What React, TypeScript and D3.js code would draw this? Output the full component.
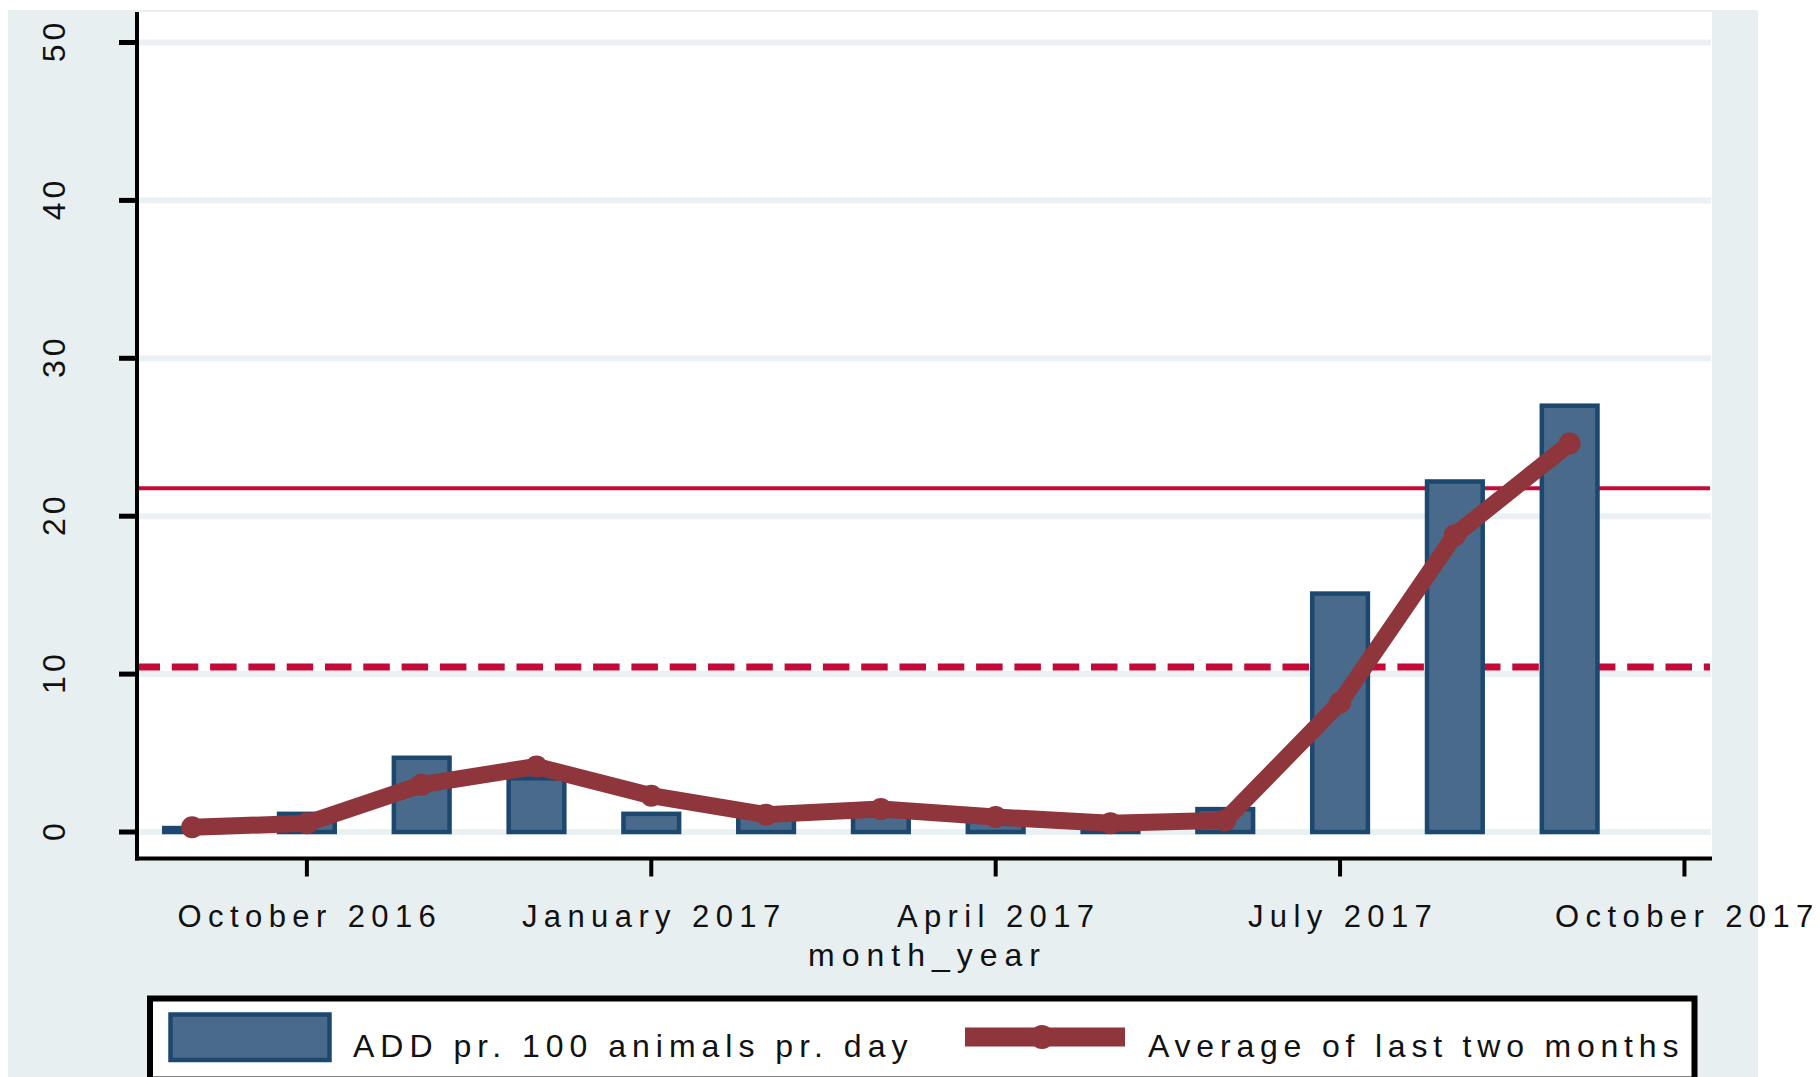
import React from "react";
import * as d3 from "d3";

// ---- data ----
const months = [
  "2016-09", "2016-10", "2016-11", "2016-12", "2017-01", "2017-02", "2017-03",
  "2017-04", "2017-05", "2017-06", "2017-07", "2017-08", "2017-09",
];
const addValues = [0.25, 1.15, 4.7, 3.4, 1.15, 1.05, 1.3, 0.9, 0.7, 1.45, 15.1, 22.2, 27.0];
const avgValues = [0.3, 0.55, 3.0, 4.15, 2.3, 1.1, 1.45, 0.95, 0.55, 0.75, 8.2, 18.8, 24.6];
const yTicks = [0, 10, 20, 30, 40, 50];
const xTickMonths = ["2016-10", "2017-01", "2017-04", "2017-07", "2017-10"];
const xTickLabels = ["October 2016", "January 2017", "April 2017", "July 2017", "October 2017"];
const refSolid = 21.77;
const refDashed = 10.45;
const legendLabels = ["ADD pr. 100 animals pr. day", "Average of last two months"];
const xTitle = "month_year";

// ---- layout / style ----
const W = 1820;
const H = 1077;
const plotL = 137;
const plotR = 1712;
const plotT = 12;
const plotB = 858.5;
const FONT = "'Liberation Sans', Arial, sans-serif";
const BG = "#e8eff1";
const GRID = "#eaf1f3";
const BAR_FILL = "#496a8a";
const BAR_STROKE = "#1c4870";
const LINE_COLOR = "#8f353c";
const REF_COLOR = "#c40a38";
const TEXT = "#111111";

const monthIndex = (s: string) => {
  const [y, m] = s.split("-").map(Number);
  return (y - 2016) * 12 + (m - 10);
};

export default function App() {
  const x = d3.scaleLinear().domain([-1.48, 12.24]).range([plotL, plotR]);
  const y = d3.scaleLinear().domain([0, 50]).range([832, 42.5]);
  const monthW = x(1) - x(0);
  const barW = monthW * 0.485;

  const pts = months.map((m, i) => ({ xi: monthIndex(m), v: avgValues[i] }));
  const line = d3
    .line<{ xi: number; v: number }>()
    .x((d) => x(d.xi))
    .y((d) => y(d.v));

  const ls = 6;

  return (
    <svg
      width={W}
      height={H}
      style={{ position: "absolute", left: 0, top: 0, background: "#ffffff" }}
    >
      {/* outer background */}
      <rect x={8} y={10} width={1750} height={H - 10} fill={BG} />
      {/* plot region */}
      <rect x={plotL} y={plotT} width={plotR - plotL} height={plotB - plotT} fill="#ffffff" />

      {/* gridlines */}
      {yTicks.map((t) => (
        <line key={"g" + t} x1={plotL} x2={plotR - 1} y1={y(t)} y2={y(t)} stroke={GRID} strokeWidth={6} />
      ))}

      {/* reference lines */}
      <line x1={plotL} x2={plotR - 2} y1={y(refSolid)} y2={y(refSolid)} stroke={REF_COLOR} strokeWidth={4} />
      <line
        x1={plotL}
        x2={plotR - 2}
        y1={y(refDashed)}
        y2={y(refDashed)}
        stroke={REF_COLOR}
        strokeWidth={7}
        strokeDasharray="26.5 11.8"
        strokeDashoffset={3.5}
      />

      {/* bars */}
      {months.map((m, i) => {
        const cx = x(monthIndex(m));
        const top = y(addValues[i]);
        return (
          <rect
            key={"b" + m}
            x={cx - barW / 2}
            y={top}
            width={barW}
            height={y(0) - top}
            fill={BAR_FILL}
            stroke={BAR_STROKE}
            strokeWidth={4.5}
          />
        );
      })}

      {/* average line */}
      <path d={line(pts) || ""} fill="none" stroke={LINE_COLOR} strokeWidth={17} strokeLinejoin="round" strokeLinecap="round" />
      {pts.map((p, i) => (
        <circle key={"c" + i} cx={x(p.xi)} cy={y(p.v)} r={11} fill={LINE_COLOR} />
      ))}

      {/* axes */}
      <line x1={plotL} x2={plotL} y1={plotT} y2={plotB + 2} stroke="#000" strokeWidth={4} />
      <line x1={plotL - 2} x2={plotR} y1={plotB} y2={plotB} stroke="#000" strokeWidth={4} />
      {yTicks.map((t) => (
        <g key={"yt" + t}>
          <line x1={plotL - 18} x2={plotL} y1={y(t)} y2={y(t)} stroke="#000" strokeWidth={5} />
          <text
            transform={`translate(65,${y(t)}) rotate(-90)`}
            textAnchor="middle"
            dx={2}
            fontFamily={FONT}
            fontSize={32}
            letterSpacing={4}
            fill={TEXT}
          >
            {t}
          </text>
        </g>
      ))}
      {xTickMonths.map((m, i) => {
        const cx = x(monthIndex(m));
        return (
          <g key={"xt" + m}>
            <line x1={cx} x2={cx} y1={plotB} y2={plotB + 18} stroke="#000" strokeWidth={4} />
            <text
              x={cx + ls / 2}
              y={927}
              textAnchor="middle"
              fontFamily={FONT}
              fontSize={31}
              letterSpacing={ls + 0.4}
              fill={TEXT}
            >
              {xTickLabels[i]}
            </text>
          </g>
        );
      })}
      <text
        x={(plotL + plotR) / 2 + ls / 2}
        y={966}
        textAnchor="middle"
        fontFamily={FONT}
        fontSize={32}
        letterSpacing={ls + 1}
        fill={TEXT}
      >
        {xTitle}
      </text>

      {/* legend */}
      <rect x={150} y={998.5} width={1544.5} height={81} fill="#ffffff" stroke="#000" strokeWidth={6} />
      <rect x={170.5} y={1014.5} width={159} height={45.5} fill={BAR_FILL} stroke={BAR_STROKE} strokeWidth={4.5} />
      <text x={353} y={1057} fontFamily={FONT} fontSize={32} letterSpacing={ls} fill={TEXT}>
        {legendLabels[0]}
      </text>
      <line x1={965} x2={1125} y1={1037} y2={1037} stroke={LINE_COLOR} strokeWidth={19} />
      <circle cx={1042} cy={1037} r={12} fill={LINE_COLOR} />
      <text x={1148} y={1057} fontFamily={FONT} fontSize={32} letterSpacing={5.8} fill={TEXT}>
        {legendLabels[1]}
      </text>
    </svg>
  );
}
